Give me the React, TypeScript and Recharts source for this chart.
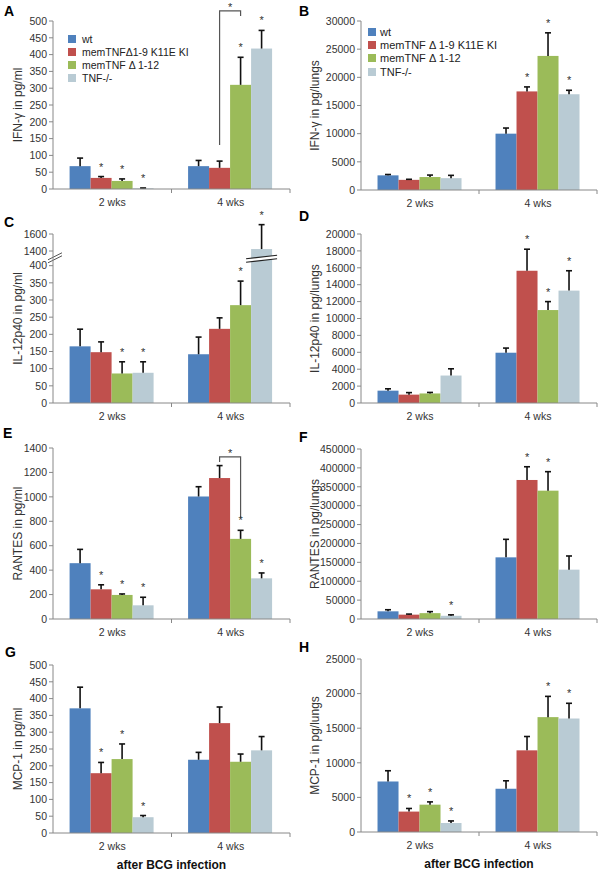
import React from 'react';
import { BarChart, Bar, XAxis, YAxis, ReferenceLine } from 'recharts';

const FONT = '"Liberation Sans", Arial, Helvetica, sans-serif';

const groups = ['2 wks', '4 wks'];
const colors = ['#4F81BD', '#C0504D', '#9BBB59', '#B9CBD4'];
const legendA = ['wt', 'memTNFΔ1-9 K11E KI', 'memTNF Δ 1-12', 'TNF-/-'];
const legendB = ['wt', 'memTNF Δ 1-9 K11E KI', 'memTNF Δ 1-12', 'TNF-/-'];

// one row per genotype (wt, K11E KI, Δ1-12, TNF-/-), columns = [2 wks, 4 wks]
const ifnSerum = [[68, 68], [33, 63], [24, 310], [2, 418]];
const ifnSerumErr = [[24, 17], [4, 20], [6, 82], [1, 54]];
const ifnSerumStar = [[0, 0], [1, 0], [1, 1], [1, 1]];
const ifnSerumTicks = [0, 50, 100, 150, 200, 250, 300, 350, 400, 450, 500];

const ifnLung = [[2600, 10000], [1800, 17500], [2300, 23800], [2100, 17000]];
const ifnLungErr = [[150, 1000], [100, 800], [350, 4100], [500, 700]];
const ifnLungStar = [[0, 0], [0, 1], [0, 1], [0, 1]];
const ifnLungTicks = [0, 5000, 10000, 15000, 20000, 25000, 30000];

const il12Serum = [[165, 142], [148, 216], [86, 285], [88, 1423]];
const il12SerumErr = [[50, 50], [30, 32], [34, 70], [32, 287]];
const il12SerumStar = [[0, 0], [0, 0], [1, 1], [1, 1]];
const il12SerumTicks = [0, 50, 100, 150, 200, 250, 300, 350, 400, 1400, 1600];

const il12Lung = [[1460, 5950], [990, 15650], [1130, 11000], [3250, 13300]];
const il12LungErr = [[220, 550], [240, 2550], [120, 1000], [800, 2350]];
const il12LungStar = [[0, 0], [0, 1], [0, 1], [0, 1]];
const il12LungTicks = [0, 2000, 4000, 6000, 8000, 10000, 12000, 14000, 16000, 18000, 20000];

const rantesSerum = [[457, 1003], [243, 1154], [197, 656], [112, 333]];
const rantesSerumErr = [[113, 80], [37, 102], [8, 70], [66, 44]];
const rantesSerumStar = [[0, 0], [1, 0], [1, 1], [1, 1]];
const rantesSerumTicks = [0, 200, 400, 600, 800, 1000, 1200, 1400];

const rantesLung = [[20300, 163200], [11500, 368000], [15500, 339700], [8500, 130600]];
const rantesLungErr = [[4200, 47700], [1500, 35000], [4000, 50300], [2500, 36200]];
const rantesLungStar = [[0, 0], [0, 1], [0, 1], [1, 0]];
const rantesLungTicks = [0, 50000, 100000, 150000, 200000, 250000, 300000, 350000, 400000, 450000];

const mcpSerum = [[371, 218], [178, 327], [220, 212], [47, 246]];
const mcpSerumErr = [[63, 22], [32, 48], [45, 23], [5, 41]];
const mcpSerumStar = [[0, 0], [1, 0], [1, 0], [1, 0]];
const mcpSerumTicks = [0, 50, 100, 150, 200, 250, 300, 350, 400, 450, 500];

const mcpLung = [[7300, 6250], [2950, 11800], [3950, 16600], [1300, 16400]];
const mcpLungErr = [[1550, 1150], [450, 2000], [400, 3000], [300, 2200]];
const mcpLungStar = [[0, 0], [1, 0], [1, 1], [1, 1]];
const mcpLungTicks = [0, 5000, 10000, 15000, 20000, 25000];

// significance brackets (4 wks, KI vs Δ1-12), heights in data units
const bracketA = { group: 1, from: 1, to: 2, top: 530, left: 131, right: 515 };
const bracketE = { group: 1, from: 1, to: 2, top: 1327, left: 1286, right: 827 };

// panel C: 0-400 linear, 1400-1600 squeezed above the break
const ident = (v: number) => v;
const brokenAxis = (v: number) =>
  v <= 400 ? v : v < 1400 ? 400 + (v - 400) * 0.0427 : 442.7 + (v - 1400) * 0.2476;
const BREAK_AT = 420;

function buildRows(mean: number[][], err: number[][], star: number[][], t: (v: number) => number) {
  return groups.map((name, g) => {
    const r: any = { name };
    mean.forEach((m, s) => {
      r['v' + s] = t(m[g]);
      r['m' + s] = m[g];
      r['e' + s] = err[s][g];
      r['s' + s] = star[s][g];
    });
    return r;
  });
}

function makeShape(si: number, t: (v: number) => number, bracket?: any, broken?: boolean) {
  return (props: any) => {
    const { x, y, width, height, payload, index } = props;
    const plotVal = payload['v' + si];
    const ppu = plotVal ? height / plotVal : 0;
    const yb = y + height;
    const toY = (raw: number) => yb - t(raw) * ppu;
    const cx = x + width / 2;
    const ey = toY(payload['m' + si] + payload['e' + si]);
    const star = payload['s' + si];
    const showBreak = broken && payload['m' + si] > 400;
    const yBr = yb - BREAK_AT * ppu;
    const hasBracket = bracket && bracket.group === index && bracket.from === si;
    let br = null;
    if (hasBracket) {
      const bx2 = cx + width * (bracket.to - bracket.from);
      const yt = toY(bracket.top);
      br = (
        <g>
          <polyline
            points={`${cx},${toY(bracket.left)} ${cx},${yt} ${bx2},${yt} ${bx2},${toY(bracket.right)}`}
            fill="none"
            stroke="#555"
            strokeWidth={1.2}
          />
          <text x={(cx + bx2) / 2} y={yt} textAnchor="middle" fontSize={11} fill="#333">*</text>
        </g>
      );
    }
    return (
      <g>
        <rect x={x} y={y} width={width} height={height} fill={colors[si]} />
        {showBreak && (
          <g>
            <polygon
              points={`${x - 5},${yBr + 3.5} ${x + width + 5},${yBr} ${x + width + 5},${yBr - 3.5} ${x - 5},${yBr}`}
              fill="#fff"
            />
            <line x1={x - 5} y1={yBr + 3.5} x2={x + width + 5} y2={yBr} stroke="#222" strokeWidth={1.1} />
            <line x1={x - 5} y1={yBr} x2={x + width + 5} y2={yBr - 3.5} stroke="#222" strokeWidth={1.1} />
          </g>
        )}
        <line x1={cx} y1={y} x2={cx} y2={ey} stroke="#111" strokeWidth={1.6} />
        <line x1={cx - 3} y1={ey} x2={cx + 3} y2={ey} stroke="#111" strokeWidth={1.6} />
        {star ? (
          <text x={cx} y={ey - 6} textAnchor="middle" fontSize={11} fill="#333">*</text>
        ) : null}
        {br}
      </g>
    );
  };
}

const AxisBreak = (p: any) => {
  const { x1, y1 } = p;
  return (
    <g>
      <polygon points={`${x1 - 5},${y1 + 4} ${x1 + 9},${y1 - 3} ${x1 + 9},${y1 - 6} ${x1 - 5},${y1 + 1}`} fill="#fff" />
      <line x1={x1 - 5} y1={y1 + 4} x2={x1 + 9} y2={y1 - 3} stroke="#555" strokeWidth={1} />
      <line x1={x1 - 5} y1={y1 + 1} x2={x1 + 9} y2={y1 - 6} stroke="#555" strokeWidth={1} />
    </g>
  );
};

const CatTick = (p: any) => {
  const edge = p.x + (p.payload && p.payload.offset ? p.payload.offset : 0);
  return (
    <g>
      <line x1={edge} x2={edge} y1={p.y - 10} y2={p.y - 6} stroke="#888" />
      <text x={p.x} y={p.y} dy="0.71em" textAnchor="middle" fontSize={10.5} fill="#333">
        {p.payload.value}
      </text>
    </g>
  );
};

function Panel(cfg: any) {
  const t = cfg.t || ident;
  const xh = cfg.xLabel ? 36 : 20;
  const h = cfg.plotBottom - cfg.top + xh + 4;
  const data = buildRows(cfg.mean, cfg.err, cfg.star, t);
  const ticks = cfg.ticks.map(t);
  const labelFor = (v: number) => {
    const i = ticks.indexOf(v);
    return i >= 0 ? String(cfg.ticks[i]) : String(v);
  };
  return (
    <div style={{ position: 'absolute', left: cfg.left, top: cfg.top }}>
      <BarChart
        width={cfg.w}
        height={h}
        data={data}
        margin={{ top: cfg.plotTop - cfg.top, right: cfg.left + cfg.w - cfg.plotRight, bottom: 4, left: 0 }}
        barCategoryGap="14%"
        barGap={0}
      >
        <XAxis
          dataKey="name"
          height={xh}
          tickLine={false}
          tickSize={4}
          tickMargin={6}
          axisLine={{ stroke: '#888' }}
          tick={(p: any) => <CatTick {...p} />}
          label={
            cfg.xLabel
              ? { value: cfg.xLabel, position: 'insideBottom', offset: 0, style: { fontWeight: 'bold', fontSize: 12, fill: '#111' } }
              : undefined
          }
        />
        <YAxis
          width={cfg.plotLeft - cfg.left}
          type="number"
          domain={[0, ticks[ticks.length - 1]]}
          ticks={ticks}
          interval={0}
          tickSize={4}
          tickMargin={2}
          axisLine={{ stroke: '#888' }}
          tickLine={{ stroke: '#888' }}
          tick={{ fontSize: 10.5, fill: '#333' }}
          tickFormatter={labelFor}
          label={{
            value: cfg.yLabel,
            angle: -90,
            position: 'insideLeft',
            offset: cfg.labelX,
            style: { textAnchor: 'middle', fontSize: 12, fill: '#333', whiteSpace: 'pre' },
          }}
        />
        {[0, 1, 2, 3].map((si) => (
          <Bar
            key={si}
            dataKey={'v' + si}
            fill={colors[si]}
            isAnimationActive={false}
            shape={makeShape(si, t, cfg.bracket, !!cfg.t)}
          />
        ))}
        {cfg.t ? <ReferenceLine y={BREAK_AT} stroke="none" shape={AxisBreak} /> : null}
      </BarChart>
    </div>
  );
}

function LegendBox({ items, left, top, rowH, fontSize, gap }: any) {
  return (
    <div style={{ position: 'absolute', left, top, fontSize, color: '#222' }}>
      {items.map((name: string, i: number) => (
        <div key={name} style={{ height: rowH, display: 'flex', alignItems: 'center', whiteSpace: 'nowrap' }}>
          <span style={{ width: 8, height: 8, background: colors[i], marginRight: gap, display: 'inline-block' }} />
          {name}
        </div>
      ))}
    </div>
  );
}

const Letter = ({ ch, left, top }: any) => (
  <div style={{ position: 'absolute', left, top, fontSize: 14, fontWeight: 'bold', lineHeight: 1 }}>{ch}</div>
);

const leftCol = { left: 0, w: 300, plotLeft: 53, plotRight: 290, labelX: 18 };
const rightCol = { left: 300, w: 303, plotLeft: 361, plotRight: 597, labelX: 15 };

const panels = [
  { ...leftCol, top: 0, plotTop: 21, plotBottom: 189, yLabel: 'IFN-γ in pg/ml', mean: ifnSerum, err: ifnSerumErr, star: ifnSerumStar, ticks: ifnSerumTicks, bracket: bracketA },
  { ...rightCol, top: 0, plotTop: 21, plotBottom: 190, yLabel: 'IFN-γ in pg/lungs', mean: ifnLung, err: ifnLungErr, star: ifnLungStar, ticks: ifnLungTicks },
  { ...leftCol, top: 210, plotTop: 234, plotBottom: 403, yLabel: 'IL-12p40 in pg/ml', mean: il12Serum, err: il12SerumErr, star: il12SerumStar, ticks: il12SerumTicks, t: brokenAxis },
  { ...rightCol, top: 210, plotTop: 234, plotBottom: 403, yLabel: 'IL-12p40 in pg/lungs', mean: il12Lung, err: il12LungErr, star: il12LungStar, ticks: il12LungTicks },
  { ...leftCol, top: 420, plotTop: 448, plotBottom: 619, yLabel: 'RANTES  in pg/ml', mean: rantesSerum, err: rantesSerumErr, star: rantesSerumStar, ticks: rantesSerumTicks, bracket: bracketE },
  { ...rightCol, top: 420, plotTop: 449, plotBottom: 619, yLabel: 'RANTES  in pg/lungs', mean: rantesLung, err: rantesLungErr, star: rantesLungStar, ticks: rantesLungTicks },
  { ...leftCol, top: 640, plotTop: 665, plotBottom: 833, yLabel: 'MCP-1  in pg/ml', mean: mcpSerum, err: mcpSerumErr, star: mcpSerumStar, ticks: mcpSerumTicks, xLabel: 'after BCG infection' },
  { ...rightCol, top: 640, plotTop: 659, plotBottom: 832, yLabel: 'MCP-1  in pg/lungs', mean: mcpLung, err: mcpLungErr, star: mcpLungStar, ticks: mcpLungTicks, xLabel: 'after BCG infection' },
];

export default function App() {
  return (
    <div style={{ position: 'absolute', left: 0, top: 0, width: 603, height: 872, background: '#fff', fontFamily: FONT, overflow: 'hidden' }}>
      {panels.map((p, i) => (
        <Panel key={i} {...p} />
      ))}
      <LegendBox items={legendA} left={68} top={32} rowH={13} fontSize={10.5} gap={6} />
      <LegendBox items={legendB} left={368} top={25} rowH={13.3} fontSize={11} gap={4} />
      <Letter ch="A" left={4} top={4} />
      <Letter ch="B" left={299} top={4} />
      <Letter ch="C" left={4} top={215} />
      <Letter ch="D" left={299} top={209} />
      <Letter ch="E" left={3} top={426} />
      <Letter ch="F" left={299} top={430} />
      <Letter ch="G" left={5} top={645} />
      <Letter ch="H" left={299} top={640} />
    </div>
  );
}
